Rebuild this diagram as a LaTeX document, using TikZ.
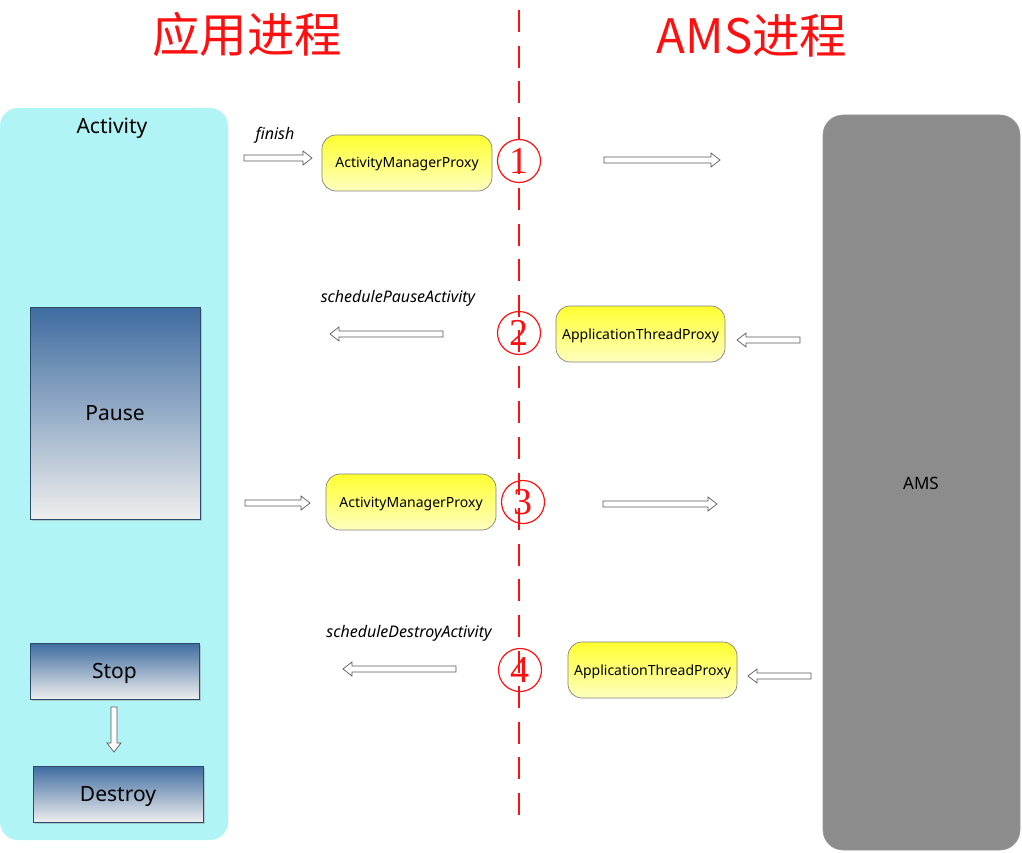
\documentclass[tikz,border=0pt]{standalone}
\usepackage{fontspec}
\setmainfont{Noto Sans}
\newfontfamily\cjk{Noto Sans CJK SC}
\newfontfamily\numfont{Liberation Serif}
\usetikzlibrary{shadows}
\definecolor{actcyan}{HTML}{B0F4F6}
\definecolor{amsgray}{HTML}{8C8C8C}
\definecolor{stTop}{HTML}{3E6CA0}
\definecolor{stBot}{HTML}{EEEEEE}
\definecolor{stBorder}{HTML}{2E4A66}
\definecolor{pxTop}{HTML}{FFFF30}
\definecolor{pxBot}{HTML}{FFFFC0}
\definecolor{titlered}{HTML}{FF1010}
\tikzset{
  statebox/.style={draw=stBorder, line width=0.8pt, top color=stTop, bottom color=stBot,
    inner sep=0pt, text height=15pt, text depth=0pt,
    drop shadow={shadow xshift=2pt, shadow yshift=-2pt, opacity=0.35},
    font=\fontsize{21}{24}\selectfont},
  proxybox/.style={draw=gray, line width=0.7pt, rounded corners=14pt, top color=pxTop, bottom color=pxBot,
    inner sep=0pt, text height=10pt, text depth=0pt,
    minimum height=56pt, font=\fontsize{14}{16}\selectfont},
  blk/.style={draw=black!65, fill=white, line width=0.7pt, line join=miter},
  numcircle/.style={circle, draw=titlered, line width=1.2pt, minimum size=43pt, inner sep=0pt,
    text=titlered, font=\numfont\fontsize{38}{38}\selectfont},
  calllabel/.style={font=\itshape\fontsize{16}{18}\selectfont},
  title/.style={text=titlered, font=\cjk\fontsize{47.5}{50}\selectfont}
}
% horizontal hollow block arrow: start x, tip x, y
\newcommand{\hblk}[3]{%
  \pgfmathsetmacro{\hbx}{#2-9*sign(#2-#1)}%
  \draw[blk] (#1,#3-3) -- (\hbx,#3-3) -- (\hbx,#3-7) -- (#2,#3) -- (\hbx,#3+7) -- (\hbx,#3+3) -- (#1,#3+3) -- cycle;}
% vertical (downward) hollow block arrow: x, start y, tip y
\newcommand{\vblk}[3]{%
  \pgfmathsetmacro{\vby}{#3-9}%
  \draw[blk] (#1-3,#2) -- (#1-3,\vby) -- (#1-7,\vby) -- (#1,#3) -- (#1+7,\vby) -- (#1+3,\vby) -- (#1+3,#2) -- cycle;}
\begin{document}
\begin{tikzpicture}[x=1pt,y=-1pt]
\useasboundingbox (0,0) rectangle (1022,853);
% titles
\node[title] (t1) at (247,34) {应用进程};
\node[title] (t2) at (752,36) {AMS进程};
% background panels
\node[fill=actcyan, rounded corners=18pt, minimum width=228pt, minimum height=732pt, inner sep=0pt] (act) at (114,474) {};
\node[font=\fontsize{21}{24}\selectfont] (actlabel) at (112,128) {Activity};
\node[fill=amsgray, draw=gray!80, line width=0.6pt, rounded corners=20pt, minimum width=197pt, minimum height=735pt, inner sep=0pt] (ams) at (921.5,482.5) {};
\node[font=\fontsize{17}{19}\selectfont] (amslabel) at (921,483) {AMS};
% states
\node[statebox, minimum width=170pt, minimum height=212pt] (pause) at (115,413) {Pause};
\node[statebox, minimum width=169pt, minimum height=56pt] (stop) at (114.5,671) {Stop};
\node[statebox, minimum width=170pt, minimum height=56pt] (destroy) at (118,794) {Destroy};
\vblk{114}{707}{752}
% dashed divider
\coordinate (dtop) at (519,10);
\coordinate (dbot) at (519,815);
\draw[titlered, line width=2.6pt, dash pattern=on 22pt off 13.59pt] (dtop) -- (dbot);
% proxies
\node[proxybox, minimum width=170pt] (amp1) at (407,163) {ActivityManagerProxy};
\node[proxybox, minimum width=169pt] (atp2) at (640.5,334) {ApplicationThreadProxy};
\node[proxybox, minimum width=170pt] (amp3) at (411,502) {ActivityManagerProxy};
\node[proxybox, minimum width=169pt] (atp4) at (652.5,670) {ApplicationThreadProxy};
% numbers
\node[numcircle] (n1) at (519,161) {1};
\node[numcircle] (n2) at (519,333) {2};
\node[numcircle] (n3) at (523,502) {3};
\node[numcircle] (n4) at (520,670) {4};
% block arrows
\hblk{244}{312}{158}
\hblk{604}{720}{160}
\hblk{443}{330}{334}
\hblk{800}{737}{340}
\hblk{245}{310}{503}
\hblk{603}{717}{504}
\hblk{456}{343}{669}
\hblk{811}{748}{676}
% call labels
\node[calllabel] (lf) at (275,135) {finish};
\node[calllabel] (lp) at (398,298) {schedulePauseActivity};
\node[calllabel] (ld) at (409,633) {scheduleDestroyActivity};
\end{tikzpicture}
\end{document}
